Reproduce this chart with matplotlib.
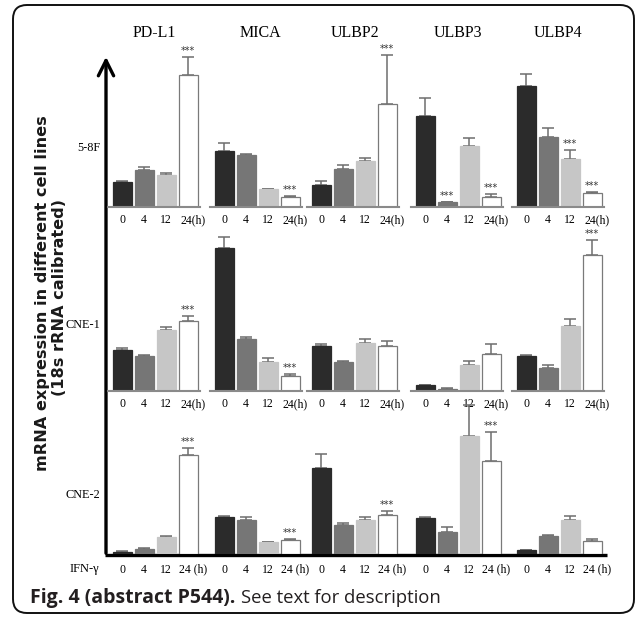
import numpy as np
import matplotlib.pyplot as plt
from matplotlib.patches import FancyBboxPatch

# relative mRNA expression (a.u.)
genes = ["PD-L1", "MICA", "ULBP2", "ULBP3", "ULBP4"]
cell_lines = ["5-8F", "CNE-1", "CNE-2"]
hours = ["0", "4", "12", "24(h)"]

# rows: cell lines, cols: genes, values for 0/4/12/24 h
mean_58f = [[25, 37, 32, 132],
            [56, 52, 18, 10],
            [22, 38, 46, 103],
            [91, 5, 61, 10],
            [121, 70, 48, 14]]
err_58f = [[1, 3, 2, 18],
           [8, 1, 0.5, 1],
           [4, 4, 3, 49],
           [18, 0, 8, 3],
           [12, 9, 9, 1]]
sig_58f = [[3], [3], [3], [1, 3], [2, 3]]

mean_cne1 = [[41, 35, 61, 70],
             [143, 52, 29, 15],
             [45, 29, 48, 45],
             [6, 2.5, 26, 37],
             [35, 23, 65, 136]]
err_cne1 = [[2, 1, 3, 5],
            [11, 2, 4, 2],
            [2, 1, 4, 5],
            [0.5, 0.3, 4, 10],
            [1, 3, 7, 15]]
sig_cne1 = [[3], [3], [], [], [3]]

mean_cne2 = [[2.5, 5.5, 17, 99],
             [37, 34, 12, 14],
             [86, 29, 34, 39],
             [36, 22, 118, 93],
             [4, 18, 34, 13]]
err_cne2 = [[0.3, 0.3, 1, 7],
            [1, 3, 0.3, 1],
            [14, 2, 3, 4],
            [1, 5, 31, 29],
            [0.3, 1, 4, 2]]
sig_cne2 = [[3], [3], [3], [3], []]

means = [mean_58f, mean_cne1, mean_cne2]
errs = [err_58f, err_cne1, err_cne2]
sigs = [sig_58f, sig_cne1, sig_cne2]

bar_colors = ["#2b2b2b", "#767676", "#c6c6c6", "#ffffff"]
edge_colors = ["#2b2b2b", "#767676", "#c6c6c6", "#7a7a7a"]

W, H = 637, 617
fig = plt.figure(figsize=(W / 100, H / 100), dpi=100)

# overlay in pixel coordinates for frame, arrow and caption
ov = fig.add_axes([0, 0, 1, 1])
ov.set_xlim(0, W)
ov.set_ylim(H, 0)
ov.axis("off")

ov.add_patch(FancyBboxPatch((13, 5), 621, 608, boxstyle="round,pad=0,rounding_size=14",
                            fill=False, ec="#111111", lw=1.4))
ov.annotate("", xy=(106, 54), xytext=(106, 556),
            arrowprops=dict(arrowstyle="->,head_length=1.1,head_width=0.55", lw=2.4, color="black"))
ov.plot([105, 607], [554.5, 554.5], color="black", lw=2.4, solid_capstyle="butt")

# caption: bold part then normal part right after it
cap1 = ov.text(30, 598, "Fig. 4 (abstract P544).", fontsize=14, fontweight="bold", family="Open Sans",
               color="#231f20", va="center", ha="left")
renderer = fig.canvas.get_renderer()
bb = cap1.get_window_extent(renderer)
ov.text(bb.x1 + 6, 598, "See text for description", fontsize=13.3, family="Open Sans",
        color="#231f20", va="center", ha="left")

ov.text(43, 293, "mRNA expression in different cell lines", rotation=90, fontsize=11.6,
        fontweight="bold", family="DejaVu Sans", ha="center", va="center", color="#1a1a1a")
ov.text(60, 298, "(18s rRNA calibrated)", rotation=90, fontsize=11.6,
        fontweight="bold", family="DejaVu Sans", ha="center", va="center", color="#1a1a1a")

serif = "Liberation Serif"
row_label_y = [148, 325, 495]
for lab, yy in zip(cell_lines, row_label_y):
    ov.text(100, yy, lab, fontsize=8.8, family=serif, ha="right", va="center")
ov.text(99, 569, "IFN-\u03b3", fontsize=9, family=serif, ha="right", va="center")

col_centers = [121, 223, 320, 424, 525]
title_dx = [33, 37, 35, 34, 33]
for g, cx, dx in zip(genes, col_centers, title_dx):
    ov.text(cx + dx, 33, g, fontsize=11.5, family=serif, ha="center", va="center")

# small panels
step = 22.0
baselines = [207, 391, 554]
ylim_top = 160
x = np.arange(4)
tick_pos = [0, 1, 2, 3.24]
for r in range(3):
    for c in range(5):
        left = col_centers[c] - 0.6 * step
        ax = fig.add_axes([left / W, 1 - baselines[r] / H, 4.2 * step / W, ylim_top / H])
        ax.patch.set_visible(False)
        m = means[r][c]
        e = errs[r][c]
        ax.bar(x, m, width=0.86, color=bar_colors, edgecolor=edge_colors, linewidth=0.9, zorder=2)
        ax.errorbar(x, m, yerr=[np.zeros(4), e], fmt="none", ecolor="#6e6e6e",
                    elinewidth=1.1, capsize=4.5, capthick=1.1, zorder=1)
        for i in sigs[r][c]:
            ax.text(x[i], m[i] + e[i] + 1, "***", ha="center", va="bottom",
                    fontsize=7, color="#333333", family="DejaVu Sans")
        ax.set_xlim(-0.65, 3.55)
        ax.set_ylim(0, ylim_top)
        for s in ["top", "right", "left"]:
            ax.spines[s].set_visible(False)
        if r < 2:
            ax.spines["bottom"].set_color("#8a8a8a")
            ax.spines["bottom"].set_linewidth(1.5)
            pad = 5
        else:
            ax.spines["bottom"].set_visible(False)
            pad = 7
        ax.set_yticks([])
        ax.set_xticks(tick_pos)
        labels = hours if r < 2 else ["0", "4", "12", "24 (h)"]
        ax.set_xticklabels(labels, fontsize=8.5, family=serif)
        ax.tick_params(axis="x", length=0, pad=pad)

fig.savefig("out.png", dpi=100)
